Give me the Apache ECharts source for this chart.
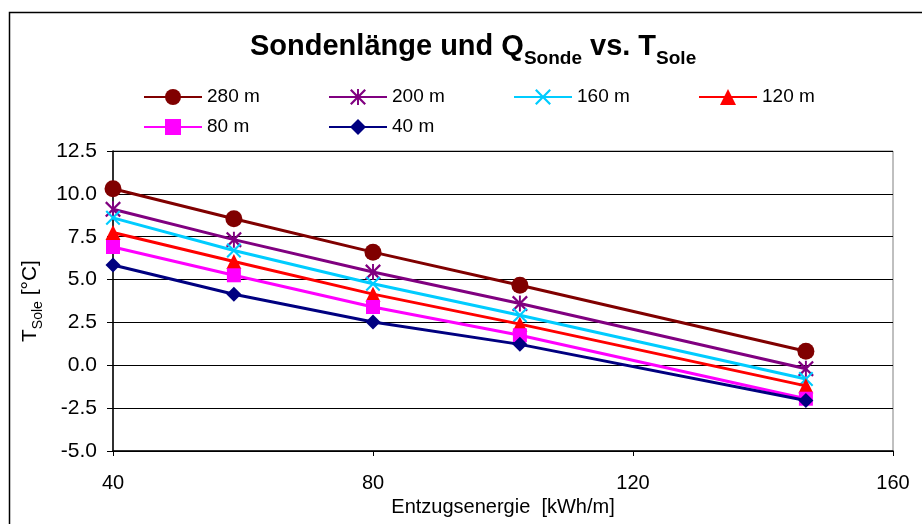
<!DOCTYPE html>
<html>
<head>
<meta charset="utf-8">
<script src="https://cdn.jsdelivr.net/npm/echarts@6/dist/echarts.min.js"></script>
<style>
  html, body { margin: 0; padding: 0; background: #fff; }
  #chart { width: 922px; height: 524px; }
</style>
</head>
<body>
<div id="chart"></div>
<script>
// Entzugsenergie (kWh/m) at which the brine temperature was evaluated
const energy = [40, 58.6, 80, 102.6, 146.6];

// Sondenlängen (legend names)
const probeLengths = ['280 m', '200 m', '160 m', '120 m', '80 m', '40 m'];

// T_Sole (°C) per probe length
const t280 = [10.3, 8.55, 6.6, 4.67, 0.82];
const t200 = [9.1, 7.33, 5.44, 3.6, -0.2];
const t160 = [8.6, 6.7, 4.76, 2.92, -0.8];
const t120 = [7.75, 6.05, 4.15, 2.4, -1.2];
const t80 = [6.9, 5.25, 3.4, 1.75, -1.95];
const t40 = [5.85, 4.14, 2.53, 1.22, -2.05];

// axis ranges and steps
const yMin = -5, yMax = 12.5, yStep = 2.5;
const xMin = 40, xMax = 160, xStep = 40;

const FONT = '"Liberation Sans", Arial, sans-serif';

// marker shapes
const crossPath = 'path://M0,10 L10,0 L50,40 L90,0 L100,10 L60,50 L100,90 L90,100 L50,60 L10,100 L0,90 L40,50 Z';
const starPath = 'path://M0,10 L10,0 L50,40 L90,0 L100,10 L60,50 L100,90 L90,100 L50,60 L10,100 L0,90 L40,50 Z M44,0 L56,0 L56,100 L44,100 Z';

const styles = [
  { color: '#800000', symbol: 'circle', size: 17, values: t280 },
  { color: '#800080', symbol: starPath, size: 16, values: t200 },
  { color: '#00CCFF', symbol: crossPath, size: 15, values: t160 },
  { color: '#FF0000', symbol: 'triangle', size: 15, values: t120 },
  { color: '#FF00FF', symbol: 'rect', size: 14, values: t80 },
  { color: '#000080', symbol: 'diamond', size: 15, values: t40 }
];

const series = styles.map((s, i) => ({
  name: probeLengths[i],
  type: 'line',
  data: energy.map((x, k) => [x, s.values[k]]),
  symbol: s.symbol,
  symbolSize: s.size,
  showAllSymbol: true,
  lineStyle: { color: s.color, width: 3 },
  itemStyle: { color: s.color, borderWidth: 0 },
  emphasis: { disabled: true },
  animation: false,
  z: 2 + i
}));

const chart = echarts.init(document.getElementById('chart'), null, { renderer: 'canvas' });
chart.setOption({
  animation: false,
  backgroundColor: '#ffffff',
  title: {
    text: '{t|Sondenlänge und Q}{s|Sonde}{t| vs. T}{s|Sole}',
    left: 245,
    top: 22,
    textStyle: {
      rich: {
        t: { fontFamily: FONT, fontWeight: 'bold', fontSize: 29, color: '#000', verticalAlign: 'bottom', lineHeight: 34 },
        s: { fontFamily: FONT, fontWeight: 'bold', fontSize: 19, color: '#000', verticalAlign: 'bottom', lineHeight: 34, padding: [0, 0, -7, 0] }
      }
    }
  },
  legend: {
    data: probeLengths,
    left: 143,
    top: 87,
    width: 760,
    padding: 0,
    itemWidth: 58,
    itemHeight: 20,
    itemGap: 10,
    textStyle: { fontFamily: FONT, fontSize: 19, color: '#000', width: 111, lineHeight: 20 }
  },
  grid: {
    left: 113,
    right: 29,
    top: 151,
    bottom: 73,
    show: true,
    borderColor: '#808080',
    borderWidth: 1,
    backgroundColor: '#ffffff'
  },
  xAxis: {
    type: 'value',
    min: xMin,
    max: xMax,
    interval: xStep,
    name: 'Entzugsenergie  [kWh/m]',
    nameLocation: 'middle',
    nameGap: 42,
    nameTextStyle: { fontFamily: FONT, fontSize: 20, color: '#000' },
    axisLine: { show: true, onZero: false, lineStyle: { color: '#000', width: 1.5 } },
    axisTick: { show: true, inside: false, length: 5, lineStyle: { color: '#000' } },
    axisLabel: { fontFamily: FONT, fontSize: 20, color: '#000', margin: 22 },
    splitLine: { show: false }
  },
  yAxis: {
    type: 'value',
    min: yMin,
    max: yMax,
    interval: yStep,
    name: '{a|T}{b|Sole}{a| [°C]}',
    nameLocation: 'middle',
    nameRotate: 90,
    nameGap: 72,
    nameTextStyle: {
      rich: {
        a: { fontFamily: FONT, fontSize: 21, color: '#000', verticalAlign: 'bottom', lineHeight: 26 },
        b: { fontFamily: FONT, fontSize: 14, color: '#000', verticalAlign: 'bottom', lineHeight: 26, padding: [0, 0, -4, 0] }
      }
    },
    axisLine: { show: true, onZero: false, lineStyle: { color: '#000', width: 1.5 } },
    axisTick: { show: true, inside: false, length: 6, lineStyle: { color: '#000' } },
    axisLabel: { fontFamily: FONT, fontSize: 21, color: '#000', margin: 16, formatter: v => v.toFixed(1) },
    splitLine: { show: true, lineStyle: { color: '#000', width: 1 } }
  },
  graphic: [{
    type: 'rect',
    left: 7,
    top: 10,
    shape: { width: 1000, height: 600 },
    style: { fill: 'none', stroke: '#000', lineWidth: 1.5 },
    silent: true,
    z: 100
  }],
  series: series
});
</script>
</body>
</html>
